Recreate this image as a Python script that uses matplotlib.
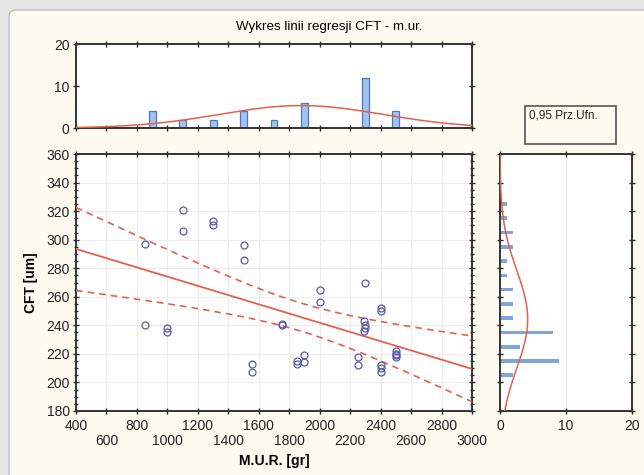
import numpy as np
import matplotlib
matplotlib.use("Agg")
import matplotlib.pyplot as plt
from matplotlib.patches import FancyBboxPatch, Rectangle
from matplotlib.ticker import MultipleLocator

plt.rcParams['font.family'] = ['Liberation Sans', 'DejaVu Sans']

# ---------------- data ----------------
mur = [850, 850, 1000, 1000, 1100, 1100, 1300, 1300, 1500, 1500, 1555, 1555,
       1750, 1750, 1850, 1850, 1900, 1900, 2000, 2000, 2250, 2250,
       2290, 2300, 2300, 2300, 2290, 2400, 2400, 2400, 2400, 2400,
       2500, 2500, 2500, 2500]
cft = [297, 240, 238, 235, 321, 306, 313, 310, 296, 286, 213, 207,
       241, 240, 215, 213, 219, 214, 265, 256, 218, 212,
       243, 270, 240, 238, 236, 252, 250, 212, 210, 207,
       222, 220, 219, 218]

# marginal histogram of M.U.R. (bin centres, counts)
top_bins = [900, 1100, 1300, 1500, 1700, 1900, 2100, 2300, 2500]
top_counts = [4, 2, 2, 4, 2, 6, 0, 12, 4]
top_binwidth = 200

# marginal histogram of CFT (bin centres, counts)
right_bins = [205, 215, 225, 235, 245, 255, 265, 275, 285, 295, 305, 315, 325]
right_counts = [2, 9, 3, 8, 2, 2, 2, 1, 1, 2, 2, 1, 1]
right_binwidth = 10

# regression line as drawn (value at x=400 and x=3000)
fit_x = [400, 3000]
fit_y = [293.5, 209.5]
t_crit = 2.032  # t(0.975, n-2)

title = "Wykres linii regresji CFT - m.ur."
xlabel = "M.U.R. [gr]"
ylabel = "CFT [um]"
legend_text = "0,95 Prz.Ufn."

# ---------------- figure ----------------
W, H = 644, 475
fig = plt.figure(figsize=(W / 100, H / 100), dpi=100)
fig.patch.set_facecolor('#E6E6E6')

def fx(px):
    return px / W

def fy(py):
    return 1 - py / H

card = FancyBboxPatch((fx(9), fy(490)), fx(660) - fx(9), fy(10) - fy(490),
                      boxstyle="round,pad=0,rounding_size=0.012",
                      transform=fig.transFigure, facecolor='#FDFAF0',
                      edgecolor='#BDBDBD', linewidth=1.0, zorder=0)
fig.add_artist(card)

red = '#E4604E'
blue_pt = '#5858B0'
spine_c = '#333333'
grid_c = '#ECECEC'

def style_axes(ax):
    for s in ax.spines.values():
        s.set_color(spine_c)
        s.set_linewidth(1.4)
    ax.set_facecolor('white')
    ax.tick_params(which='both', direction='inout', colors='#222222',
                   top=True, right=True, labelsize=10, width=1.0)
    ax.tick_params(which='major', length=5)
    ax.tick_params(which='minor', length=3)

# main axes
L, R = 76, 472
T, B = 154, 411
ax = fig.add_axes([fx(L), fy(B), fx(R) - fx(L), fy(T) - fy(B)])
style_axes(ax)
ax.set_xlim(400, 3000)
ax.set_ylim(180, 360)
xt = np.arange(400, 3001, 200)
ax.set_xticks(xt)
ax.set_xticklabels([str(v) if i % 2 == 0 else '\n' + str(v) for i, v in enumerate(xt)],
                   linespacing=1.15)
ax.set_yticks(np.arange(180, 361, 20))
ax.yaxis.set_minor_locator(MultipleLocator(5))
ax.tick_params(axis='x', pad=3)
ax.tick_params(axis='y', pad=2)
ax.grid(True, which='major', color=grid_c, linewidth=0.7, zorder=0)
for gx in (1200, 1800, 2400):
    ax.axvline(gx, color='#DCDCDC', linewidth=0.8, zorder=0.5)
ax.axhline(280, color='#DCDCDC', linewidth=0.8, zorder=0.5)

mx = np.array(mur, float)
cy = np.array(cft, float)
n = len(mx)
slope = (fit_y[1] - fit_y[0]) / (fit_x[1] - fit_x[0])
icpt = fit_y[0] - slope * fit_x[0]
xbar = mx.mean()
sxx = ((mx - xbar) ** 2).sum()
resid = cy - (icpt + slope * mx)
s = np.sqrt((resid ** 2).sum() / (n - 2))
xx = np.linspace(400, 3000, 300)
yy = icpt + slope * xx
hw = t_crit * s * np.sqrt(1 / n + (xx - xbar) ** 2 / sxx)

ax.plot(xx, yy, color=red, linewidth=1.3, zorder=3)
ax.plot(xx, yy + hw, color=red, linewidth=1.2, linestyle=(0, (4, 3)), zorder=3)
ax.plot(xx, yy - hw, color=red, linewidth=1.2, linestyle=(0, (4, 3)), zorder=3)
ax.plot(mx, cy, linestyle='none', marker='o', markersize=5, markerfacecolor='none',
        markeredgecolor=blue_pt, markeredgewidth=0.9, zorder=4)

ax.set_xlabel(xlabel, fontsize=10, fontweight='bold', labelpad=4)
ax.set_ylabel(ylabel, fontsize=10, fontweight='bold', labelpad=6)

# top histogram
axt = fig.add_axes([fx(L), fy(128), fx(R) - fx(L), fy(44) - fy(128)])
style_axes(axt)
axt.set_xlim(400, 3000)
axt.set_ylim(0, 20)
axt.set_xticks(np.arange(400, 3001, 200))
axt.tick_params(axis='x', labelbottom=False)
axt.set_yticks([0, 10, 20])
axt.tick_params(axis='y', pad=2, labelright=False)
axt.bar(top_bins, top_counts, width=45, color='#A4C3EC', edgecolor='#4A78C8',
        linewidth=0.9, zorder=2)
mu_x, sd_x = mx.mean(), mx.std(ddof=1)
xn = np.linspace(400, 3000, 300)
axt.plot(xn, n * top_binwidth / (sd_x * np.sqrt(2 * np.pi)) *
         np.exp(-0.5 * ((xn - mu_x) / sd_x) ** 2), color=red, linewidth=1.1, zorder=3)
axt.set_title(title, fontsize=9.6, pad=10, x=0.64)

# right histogram
axr = fig.add_axes([fx(500), fy(B), fx(632) - fx(500), fy(T) - fy(B)])
style_axes(axr)
axr.set_xlim(0, 20)
axr.set_ylim(180, 360)
axr.set_xticks([0, 10, 20])
axr.set_yticks(np.arange(180, 361, 20))
axr.tick_params(axis='y', labelleft=False)
axr.tick_params(axis='x', pad=3)
axr.grid(True, axis='x', color='#E2E2E2', linewidth=0.8, zorder=0)
axr.barh(right_bins, right_counts, height=2.6, color='#7EA6DC', edgecolor='none', zorder=2)
mu_y, sd_y = cy.mean(), cy.std(ddof=1)
yn = np.linspace(180, 360, 300)
axr.plot(n * right_binwidth / (sd_y * np.sqrt(2 * np.pi)) *
         np.exp(-0.5 * ((yn - mu_y) / sd_y) ** 2), yn, color=red, linewidth=1.1, zorder=3)

# legend box
lb = Rectangle((fx(525), fy(144)), fx(616) - fx(525), fy(106) - fy(144),
               transform=fig.transFigure, facecolor='#FDFAF0', edgecolor='#555555',
               linewidth=1.2)
fig.add_artist(lb)
fig.text(fx(529), fy(110), legend_text, fontsize=8.5, va='top', ha='left', color='#222222')

fig.savefig('out.png', dpi=100, facecolor=fig.get_facecolor())
